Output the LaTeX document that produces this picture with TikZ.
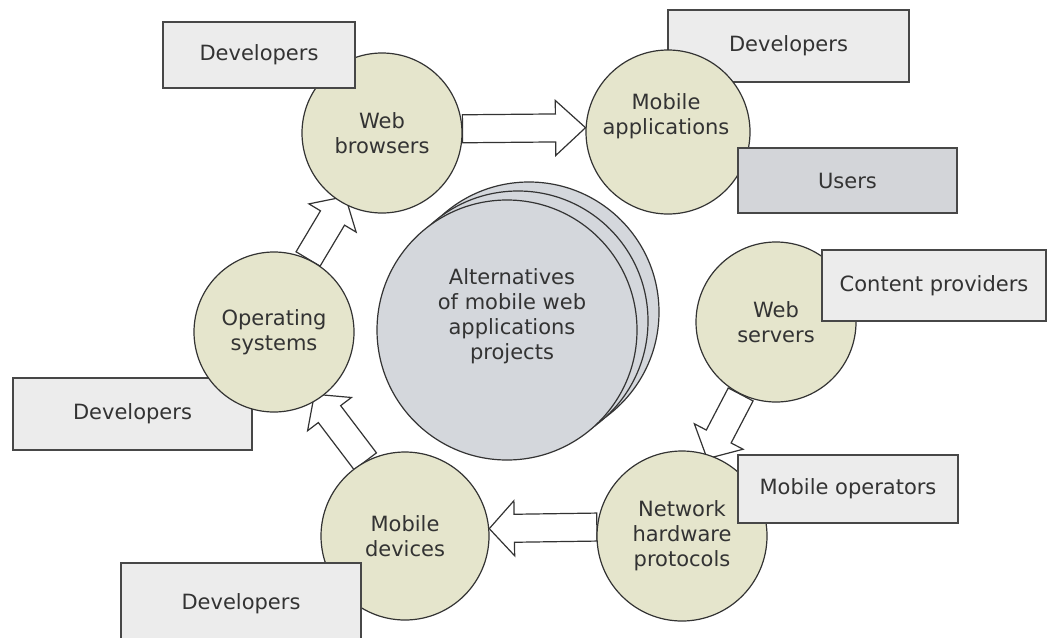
\documentclass[tikz,border=0pt]{standalone}
\usepackage{fontspec}
\setmainfont{DejaVu Sans}
\usetikzlibrary{calc}
\pgfdeclarelayer{bg}
\pgfsetlayers{bg,main}
\definecolor{bubblefill}{RGB}{229,229,204}
\definecolor{stackfill}{RGB}{212,215,220}
\definecolor{boxfill}{RGB}{236,236,236}
\definecolor{userfill}{RGB}{211,213,217}
\definecolor{ink}{RGB}{51,51,51}
\tikzset{
  lbl/.style={text=ink, font=\fontsize{21}{25}\selectfont, align=center},
  bubble/.style={lbl, circle, draw=ink, line width=1.2pt, fill=bubblefill, inner sep=0pt},
  stackc/.style={circle, draw=ink, line width=1.2pt, fill=stackfill, inner sep=0pt, minimum size=260pt},
  actor/.style={lbl, rectangle, draw=ink!90, line width=1.6pt, fill=boxfill, inner sep=0pt},
  useractor/.style={actor, fill=userfill},
  txt/.style={lbl, inner sep=0pt},
  arrowshape/.style={draw=ink, line width=1.2pt, fill=white, line join=miter}
}
\newcommand{\blockarrow}[3]{%
  \path ($(#2)!#3!(#1)$) coordinate (hb);
  \draw[arrowshape] ($(#1)!14pt!90:(#2)$) -- ($(hb)!14pt!-90:(#1)$) -- ($(hb)!27.5pt!-90:(#1)$) -- (#2)
     -- ($(hb)!27.5pt!90:(#1)$) -- ($(hb)!14pt!90:(#1)$) -- ($(#1)!14pt!-90:(#2)$) -- cycle;
}
\begin{document}
\begin{tikzpicture}[x=1pt,y=-1pt]
\useasboundingbox (0,0) rectangle (1048,637);
\clip (0,0) rectangle (1048,637);

% circles
\node[bubble, minimum size=160pt] (wb) at (382,133) {Web\\browsers};
\node[bubble, minimum size=164pt] (ma) at (668,132) {};
\node[txt] (matext) at (666,116) {Mobile\\applications};
\node[bubble, minimum size=160pt] (ws) at (776,322) {Web\\servers};
\node[bubble, minimum size=170pt] (nh) at (682,536) {Network\\hardware\\protocols};
\node[bubble, minimum size=168pt] (md) at (405,536) {Mobile\\devices};
\node[bubble, minimum size=160pt] (os) at (274,332) {Operating\\systems};

% central stack
\node[stackc] (c3) at (529,312) {};
\node[stackc] (c2) at (518,321) {};
\node[stackc] (c1) at (507,330) {};
\node[txt] (ctext) at (512,316) {Alternatives\\of mobile web\\applications\\projects};

% arrows and boxes behind circles
\begin{pgfonlayer}{bg}
\fill[white] (0,0) rectangle (1048,637);
\coordinate (a1s) at (wb.3.6);
\coordinate (a1e) at (ma.177.2);
\blockarrow{a1s}{a1e}{30pt}
\coordinate (a2s) at (os.65.2);
\coordinate (a2e) at ($(wb.center)!0.91!(wb.240.6)$);
\blockarrow{a2s}{a2e}{25pt}
\coordinate (a3s) at (md.118.3);
\coordinate (a3e) at ($(os.center)!0.92!(os.303.6)$);
\blockarrow{a3s}{a3e}{25pt}
\coordinate (a4s) at (ws.244);
\coordinate (a4e) at ($(nh.center)!0.95!(nh.72.5)$);
\blockarrow{a4s}{a4e}{25pt}
\coordinate (a5s) at (nh.174.6);
\coordinate (a5e) at (md.5.5);
\blockarrow{a5s}{a5e}{25pt}

\node[actor, minimum width=241pt, minimum height=72pt] (dev2) at (788.5,46) {Developers};
\node[actor, minimum width=239pt, minimum height=72pt] (dev3) at (132.5,414) {Developers};
\end{pgfonlayer}

% boxes in front of circles
\node[actor, minimum width=192pt, minimum height=66pt] (dev1) at (259,55) {Developers};
\node[useractor, minimum width=219pt, minimum height=65pt] (users) at (847.5,180.5) {Users};
\node[actor, minimum width=224pt, minimum height=71pt] (content) at (934,285.5) {Content providers};
\node[actor, minimum width=220pt, minimum height=68pt] (mobop) at (848,489) {Mobile operators};
\node[actor, minimum width=240pt, minimum height=82pt] (dev4) at (241,604) {Developers};
\end{tikzpicture}
\end{document}
